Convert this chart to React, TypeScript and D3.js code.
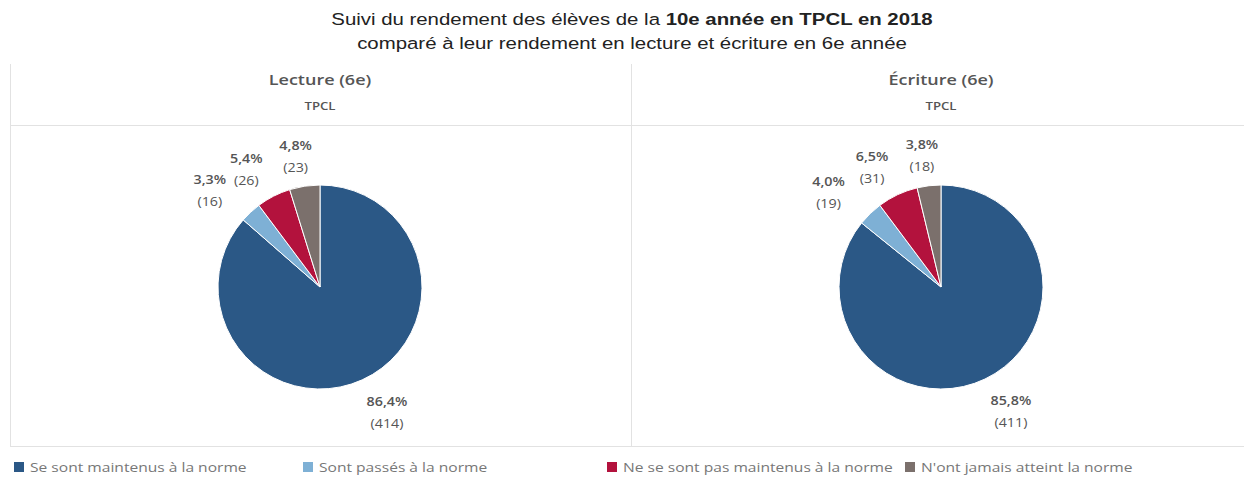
import React, { useEffect, useRef } from "react";
import * as d3 from "d3";

const categories = [
  "Se sont maintenus à la norme",
  "Sont passés à la norme",
  "Ne se sont pas maintenus à la norme",
  "N'ont jamais atteint la norme",
];
const colors = ["#2b5886", "#7eb0d5", "#b3123d", "#7b706c"];
const panelTitles = ["Lecture (6e)", "Écriture (6e)"];
const lectureCounts = [414, 16, 26, 23];
const lecturePcts = ["86,4%", "3,3%", "5,4%", "4,8%"];
const ecritureCounts = [411, 19, 31, 18];
const ecriturePcts = ["85,8%", "4,0%", "6,5%", "3,8%"];

const W = 1244;
const H = 478;
// the source picture is stretched horizontally
const SX = 1.2;

export default function App() {
  const ref = useRef<SVGSVGElement>(null);

  useEffect(() => {
    const svg = d3.select(ref.current);
    svg.selectAll("*").remove();

    const font = "'Open Sans', Lato, sans-serif";
    const arial = "Arial, 'Liberation Sans', sans-serif";

    const stretched = (x: number, y: number) =>
      svg.append("text").attr("transform", `translate(${x},${y}) scale(${SX},1)`);

    // title
    const t1 = stretched(632, 25).attr("text-anchor", "middle")
      .style("font-family", arial).style("font-size", "17px").attr("fill", "#222");
    t1.append("tspan").text("Suivi du rendement des élèves de la ");
    t1.append("tspan").attr("font-weight", "bold").text("10e année en TPCL en 2018");
    stretched(632, 49).attr("text-anchor", "middle")
      .style("font-family", arial).style("font-size", "17px").attr("fill", "#222")
      .text("comparé à leur rendement en lecture et écriture en 6e année");

    // panel frame
    const frame = svg.append("g").attr("stroke", "#e2e2e2").attr("stroke-width", 1);
    frame.append("line").attr("x1", 10.5).attr("x2", 10.5).attr("y1", 64).attr("y2", 447);
    frame.append("line").attr("x1", 631.5).attr("x2", 631.5).attr("y1", 64).attr("y2", 447);
    frame.append("line").attr("x1", 10).attr("x2", 1244).attr("y1", 125.5).attr("y2", 125.5);
    frame.append("line").attr("x1", 10).attr("x2", 1244).attr("y1", 446.5).attr("y2", 446.5);

    const panels = [
      { counts: lectureCounts, pcts: lecturePcts, cx: 320 },
      { counts: ecritureCounts, pcts: ecriturePcts, cx: 941 },
    ];

    const pie = d3.pie<number>().sort(null).value(d => d);
    const radius = 102;
    const arc = d3.arc<d3.PieArcDatum<number>>().innerRadius(0).outerRadius(radius);
    const labelR = 135;
    const labelPos = (d: d3.PieArcDatum<number>) => {
      const a = (d.startAngle + d.endAngle) / 2;
      return [Math.sin(a) * labelR * SX, -Math.cos(a) * labelR];
    };

    panels.forEach((p, i) => {
      stretched(p.cx, 85).attr("text-anchor", "middle")
        .style("font-family", font).style("font-size", "15px").attr("font-weight", 600).attr("fill", "#555")
        .text(panelTitles[i]);
      stretched(p.cx, 110).attr("text-anchor", "middle")
        .style("font-family", font).style("font-size", "11px").attr("font-weight", 600).attr("fill", "#555")
        .text("TPCL");

      const g = svg.append("g").attr("transform", `translate(${p.cx},287)`);
      const arcs = pie(p.counts);
      g.selectAll("path").data(arcs).join("path")
        .attr("d", arc)
        .attr("fill", (d, j) => colors[j])
        .attr("stroke", "#fff").attr("stroke-width", 1);

      const lab = g.selectAll("g.lab").data(arcs).join("g").attr("class", "lab")
        .attr("transform", d => `translate(${labelPos(d)}) scale(1.1,1)`);
      lab.append("text").attr("text-anchor", "middle").attr("y", -4)
        .style("font-family", font).style("font-size", "13px").attr("font-weight", 600).attr("fill", "#555")
        .text((d, j) => p.pcts[j]);
      lab.append("text").attr("text-anchor", "middle").attr("y", 18)
        .style("font-family", font).style("font-size", "13px").attr("fill", "#555")
        .text(d => `(${d.data})`);
    });

    // legend
    const legendX = [14, 303, 607, 905];
    const lg = svg.append("g").selectAll("g").data(categories).join("g")
      .attr("transform", (d, i) => `translate(${legendX[i]},462)`);
    lg.append("rect").attr("width", 10).attr("height", 10).attr("fill", (d, i) => colors[i]);
    lg.append("text").attr("transform", `translate(16,10) scale(${SX},1)`)
      .style("font-family", font).style("font-size", "13px").attr("fill", "#777")
      .text(d => d);
  }, []);

  return <svg ref={ref} width={W} height={H} style={{ position: "absolute", left: 0, top: 0, background: "#fff" }} />;
}
